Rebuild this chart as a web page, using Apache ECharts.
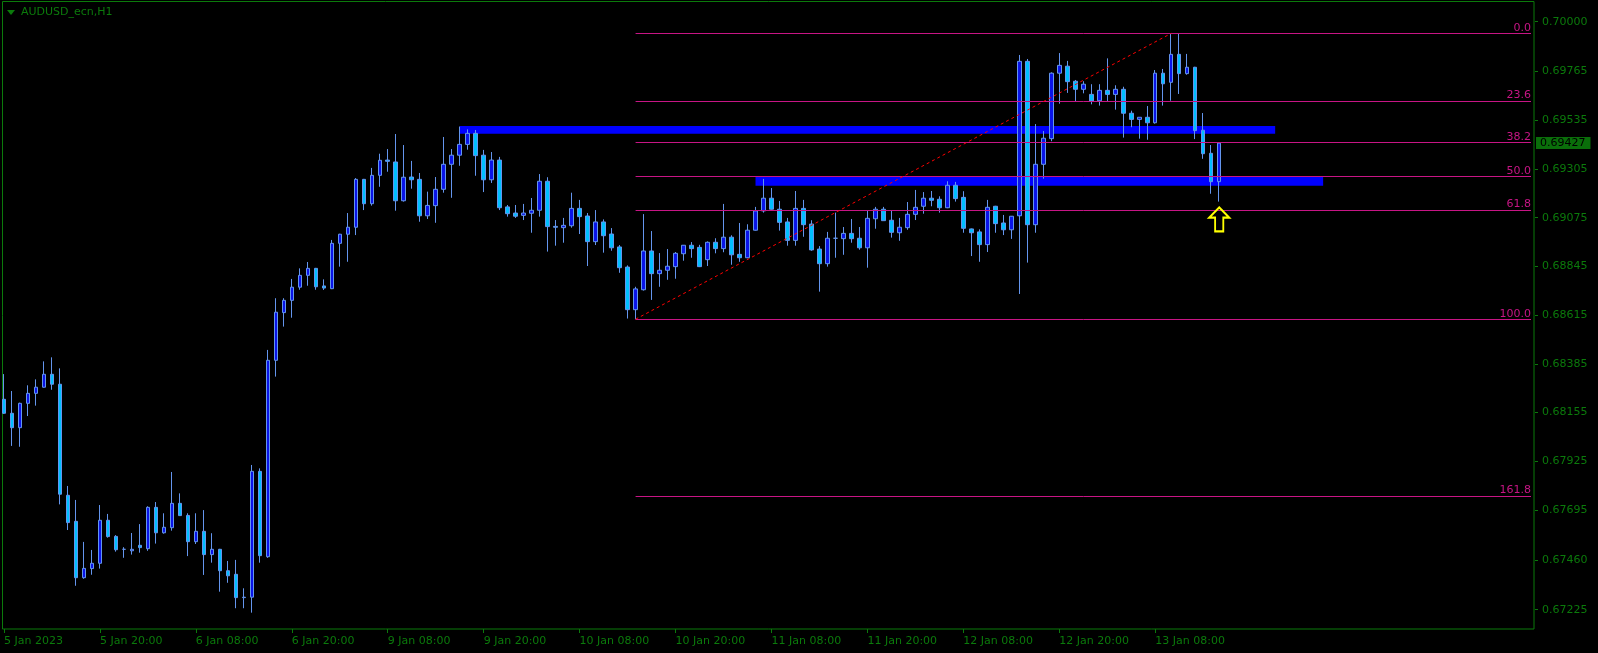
<!DOCTYPE html>
<html><head><meta charset="utf-8">
<script src="https://cdn.jsdelivr.net/npm/echarts@6/dist/echarts.min.js"></script>
<style>html,body{margin:0;padding:0;background:#000;}#c{width:1598px;height:653px;}</style>
</head><body><div id="c"></div>
<script>
const chartTitle = 'AUDUSD_ecn,H1';
const barCount = 192;
const xTickLabels = ['5 Jan 2023','5 Jan 20:00','6 Jan 08:00','6 Jan 20:00','9 Jan 08:00','9 Jan 20:00','10 Jan 08:00','10 Jan 20:00','11 Jan 08:00','11 Jan 20:00','12 Jan 08:00','12 Jan 20:00','13 Jan 08:00'];
const xTickEvery = 12;
const yTickLabels = ['0.70000','0.69765','0.69535','0.69305','0.69075','0.68845','0.68615','0.68385','0.68155','0.67925','0.67695','0.67460','0.67225'];
const yMin = 0.671339, yMax = 0.700930;

const opens = [0.68218,0.68152,0.68084,0.68199,0.68246,0.68275,0.68336,0.68289,0.67765,0.67642,
0.67376,0.67419,0.67444,0.67647,0.67571,0.67510,0.67503,0.67529,0.67513,0.67708,
0.67588,0.67612,0.67727,0.67670,0.67546,0.67595,0.67485,0.67510,0.67409,0.67392,
0.67282,0.67284,0.67878,0.67475,0.68402,0.68627,0.68685,0.68747,0.68803,0.68836,
0.68753,0.68740,0.68954,0.68997,0.69030,0.69256,0.69141,0.69275,0.69347,0.69338,
0.69155,0.69267,0.69256,0.69084,0.69132,0.69209,0.69327,0.69370,0.69421,0.69473,
0.69370,0.69254,0.69347,0.69126,0.69097,0.69086,0.69096,0.69110,0.69247,0.69034,
0.69028,0.69037,0.69119,0.69083,0.68962,0.69055,0.68998,0.68937,0.68842,0.68641,
0.68735,0.68918,0.68811,0.68827,0.68844,0.68905,0.68945,0.68935,0.68877,0.68959,
0.68929,0.68983,0.68902,0.68886,0.69016,0.69107,0.69167,0.69115,0.69055,0.68968,
0.69119,0.69045,0.68927,0.68858,0.68978,0.68976,0.69001,0.68978,0.68933,0.69070,
0.69115,0.69063,0.69004,0.69028,0.69091,0.69129,0.69167,0.69162,0.69122,0.69228,
0.69171,0.69022,0.69008,0.68948,0.69129,0.69050,0.69018,0.69084,0.69813,0.69042,
0.69327,0.69448,0.69757,0.69790,0.69719,0.69681,0.69657,0.69627,0.69676,0.69657,
0.69681,0.69568,0.69539,0.69549,0.69523,0.69757,0.69714,0.69846,0.69755,0.69785,
0.69488,0.69379,0.69245];
const highs = [0.68337,0.68257,0.68202,0.68284,0.68312,0.68397,0.68416,0.68364,0.67809,0.67743,
0.67545,0.67507,0.67719,0.67677,0.67577,0.67520,0.67587,0.67629,0.67713,0.67733,
0.67680,0.67875,0.67774,0.67680,0.67680,0.67695,0.67586,0.67512,0.67455,0.67460,
0.67326,0.67908,0.67892,0.68451,0.68695,0.68695,0.68786,0.68836,0.68866,0.68838,
0.68784,0.68970,0.68999,0.69097,0.69262,0.69258,0.69310,0.69377,0.69399,0.69470,
0.69418,0.69343,0.69286,0.69198,0.69267,0.69456,0.69399,0.69505,0.69492,0.69489,
0.69395,0.69385,0.69362,0.69135,0.69135,0.69140,0.69168,0.69281,0.69266,0.69064,
0.69074,0.69193,0.69159,0.69097,0.69111,0.69067,0.69026,0.68946,0.68850,0.68749,
0.69092,0.69012,0.68908,0.68927,0.68913,0.68946,0.68960,0.68947,0.68963,0.68978,
0.69140,0.68992,0.69050,0.69044,0.69126,0.69258,0.69215,0.69154,0.69074,0.69201,
0.69159,0.69063,0.68941,0.69008,0.69099,0.69031,0.69069,0.69031,0.69107,0.69126,
0.69126,0.69111,0.69074,0.69149,0.69206,0.69196,0.69201,0.69176,0.69247,0.69244,
0.69200,0.69024,0.69020,0.69159,0.69131,0.69088,0.69083,0.69843,0.69824,0.69517,
0.69484,0.69761,0.69852,0.69815,0.69725,0.69719,0.69705,0.69705,0.69827,0.69700,
0.69693,0.69580,0.69549,0.69602,0.69772,0.69777,0.69945,0.69942,0.69848,0.69787,
0.69569,0.69418,0.69427];
const lows = [0.68149,0.67998,0.67994,0.68139,0.68188,0.68273,0.68263,0.67722,0.67601,0.67338,
0.67371,0.67390,0.67419,0.67565,0.67499,0.67470,0.67485,0.67494,0.67503,0.67537,
0.67584,0.67598,0.67668,0.67478,0.67535,0.67389,0.67447,0.67310,0.67352,0.67232,
0.67232,0.67211,0.67447,0.67470,0.68325,0.68561,0.68603,0.68735,0.68754,0.68735,
0.68734,0.68738,0.68844,0.68867,0.68993,0.69111,0.69132,0.69221,0.69292,0.69108,
0.69151,0.69212,0.69056,0.69069,0.69051,0.69193,0.69169,0.69320,0.69396,0.69273,
0.69196,0.69239,0.69111,0.69080,0.69074,0.69064,0.69004,0.69080,0.68915,0.68943,
0.68957,0.69028,0.68998,0.68847,0.68946,0.68910,0.68919,0.68815,0.68599,0.68596,
0.68731,0.68687,0.68749,0.68782,0.68787,0.68872,0.68886,0.68842,0.68847,0.68907,
0.68912,0.68853,0.68867,0.68884,0.69014,0.69099,0.69113,0.69014,0.68943,0.68943,
0.68985,0.68919,0.68726,0.68844,0.68886,0.68900,0.68957,0.68924,0.68839,0.69023,
0.69060,0.68981,0.68966,0.69018,0.69064,0.69094,0.69129,0.69099,0.69120,0.69151,
0.69004,0.68894,0.68867,0.68913,0.69004,0.68993,0.68975,0.68715,0.68863,0.69004,
0.69259,0.69436,0.69613,0.69664,0.69624,0.69662,0.69610,0.69604,0.69626,0.69585,
0.69453,0.69502,0.69448,0.69443,0.69519,0.69604,0.69627,0.69659,0.69750,0.69446,
0.69353,0.69188,0.69151];
const closes = [0.68152,0.68084,0.68199,0.68246,0.68275,0.68336,0.68289,0.67770,0.67636,0.67376,
0.67420,0.67444,0.67647,0.67570,0.67508,0.67510,0.67510,0.67518,0.67708,0.67588,
0.67614,0.67727,0.67669,0.67546,0.67595,0.67485,0.67510,0.67409,0.67385,0.67282,
0.67284,0.67878,0.67480,0.68402,0.68629,0.68685,0.68747,0.68803,0.68836,0.68749,
0.68743,0.68954,0.68997,0.69030,0.69256,0.69141,0.69275,0.69346,0.69341,0.69155,
0.69266,0.69254,0.69084,0.69133,0.69209,0.69327,0.69370,0.69421,0.69473,0.69368,
0.69254,0.69347,0.69122,0.69094,0.69082,0.69097,0.69110,0.69247,0.69033,0.69030,
0.69039,0.69119,0.69080,0.68962,0.69055,0.68990,0.68933,0.68839,0.68641,0.68739,
0.68918,0.68811,0.68827,0.68846,0.68907,0.68945,0.68929,0.68844,0.68959,0.68929,
0.68983,0.68900,0.68886,0.69016,0.69107,0.69167,0.69115,0.69053,0.68968,0.69119,
0.69042,0.68923,0.68858,0.68978,0.68978,0.69001,0.68976,0.68933,0.69072,0.69115,
0.69061,0.69006,0.69030,0.69091,0.69124,0.69167,0.69157,0.69122,0.69228,0.69165,
0.69025,0.69004,0.68948,0.69124,0.69047,0.69018,0.69082,0.69813,0.69042,0.69327,
0.69450,0.69757,0.69794,0.69717,0.69681,0.69705,0.69626,0.69676,0.69657,0.69681,
0.69568,0.69539,0.69549,0.69523,0.69757,0.69707,0.69846,0.69755,0.69785,0.69486,
0.69377,0.69245,0.69427];

const fibLow = 0.68596, fibHigh = 0.69945;
const fibStartBar = 79, fibHighBar = 146;
const fibLevels = [0, 23.6, 38.2, 50, 61.8, 100, 161.8];
const zoneFromBars = [57, 94];
const zoneToBars = [159, 165];
const zoneTops = [0.69508, 0.69267];
const zoneBottoms = [0.69471, 0.69226];
const currentPrice = 0.69427;
const arrowBar = 152, arrowPrice = 0.69067;

const GREEN = '#0b7a0b';
const FIB = '#c71585';
const FONT = 'DejaVu Sans';

const categories = Array.from({length: barCount}, (_, i) => String(i));
const candleData = opens.map((o, i) => [o, closes[i], lows[i], highs[i]]);
const showTick = (i) => i % xTickEvery === 0 && (i / xTickEvery) < xTickLabels.length;
const fibPrice = (lv) => fibHigh - (fibHigh - fibLow) * lv / 100;

const chart = echarts.init(document.getElementById('c'), null, {renderer: 'canvas'});
chart.setOption({
  backgroundColor: '#000000',
  animation: false,
  title: {text: chartTitle, left: 21, top: 7, padding: 0,
    textStyle: {color: GREEN, fontSize: 11, fontWeight: 'normal', fontFamily: FONT}},
  graphic: [
    {type: 'polygon', shape: {points: [[7, 10], [15, 10], [11, 15]]}, style: {fill: GREEN}, silent: true},
    {type: 'rect', shape: {x: 2.5, y: 1.5, width: 1531.5, height: 627.5}, style: {fill: null, stroke: GREEN, lineWidth: 1}, silent: true, z: -1}
  ],
  grid: {left: -1, right: 63, top: 2, bottom: 24, show: false},
  xAxis: {
    type: 'category', data: categories, boundaryGap: true,
    axisLine: {show: false},
    axisTick: {show: true, alignWithLabel: true, interval: showTick, length: 4, lineStyle: {color: GREEN}},
    axisLabel: {interval: showTick, align: 'left', margin: 7, color: GREEN, fontSize: 11, fontFamily: FONT,
      formatter: (v, i) => xTickLabels[i / xTickEvery] || ''},
    splitLine: {show: false}
  },
  yAxis: {
    type: 'value', position: 'right', min: yMin, max: yMax, scale: true,
    axisLine: {show: false},
    axisTick: {show: true, length: 3, customValues: yTickLabels.map(Number), lineStyle: {color: GREEN}},
    axisLabel: {customValues: yTickLabels.map(Number), margin: 7, color: GREEN, fontSize: 11, fontFamily: FONT,
      formatter: (v) => v.toFixed(5)},
    splitLine: {show: false}
  },
  series: [
    {
      type: 'line', data: [], z: 1, silent: true,
      markArea: {silent: true, itemStyle: {color: '#0000ff', opacity: 1},
        data: zoneFromBars.map((b, k) => [{coord: [b, zoneTops[k]]}, {coord: [zoneToBars[k], zoneBottoms[k]]}])}
    },
    {
      type: 'candlestick', data: candleData, z: 2, barWidth: 4, silent: true,
      itemStyle: {color: '#0a14e8', color0: '#00bfff', borderColor: '#6495ed', borderColor0: '#6495ed', borderColorDoji: '#6495ed', borderWidth: 1},
      markLine: {silent: true, symbol: ['none', 'none'], lineStyle: {color: 'rgba(0,0,0,0)', width: 1},
        label: {show: true, position: 'end', distance: 5, formatter: currentPrice.toFixed(5), color: '#000000',
          backgroundColor: '#0a6e0a', padding: [1, 5, 0, 4], fontSize: 11, fontFamily: FONT},
        data: [[{coord: [0, currentPrice]}, {coord: [barCount - 1, currentPrice]}]]}
    },
    {
      type: 'line', data: [], z: 3, silent: true,
      markLine: {silent: true, symbol: ['none', 'none'],
        lineStyle: {color: FIB, width: 1, type: 'solid'},
        label: {show: true, position: 'insideEndTop', color: FIB, fontSize: 11, fontFamily: FONT, distance: [0, 0]},
        data: fibLevels.map(lv => [
          {coord: [fibStartBar, fibPrice(lv)], label: {formatter: lv.toFixed(1)}},
          {coord: [barCount - 1, fibPrice(lv)]}
        ]).concat([[
          {coord: [fibStartBar, fibLow], label: {show: false}, lineStyle: {color: '#ff0000', type: [3, 3], width: 1}},
          {coord: [fibHighBar, fibHigh]}
        ]])
      }
    },
    {
      type: 'line', data: [], z: 4, silent: true,
      markPoint: {silent: true, label: {show: false},
        data: [{coord: [arrowBar, arrowPrice], symbol: 'path://M11,0 L22,11 L15.5,11 L15.5,26 L6.5,26 L6.5,11 L0,11 Z',
          symbolSize: [20, 24], itemStyle: {color: 'rgba(0,0,0,0)', borderColor: '#ffff00', borderWidth: 2}}]}
    }
  ]
});
</script></body></html>
